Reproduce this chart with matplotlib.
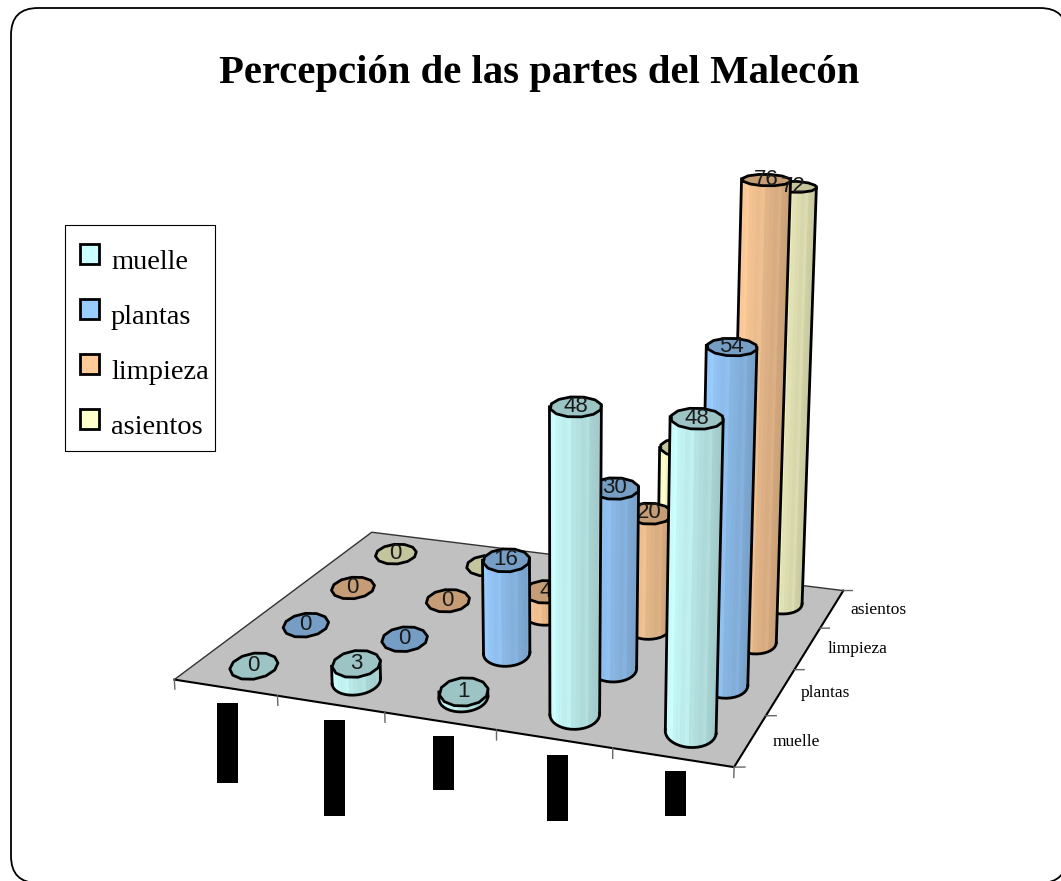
import numpy as np
import matplotlib
matplotlib.use("Agg")
import matplotlib.pyplot as plt
from matplotlib.patches import FancyBboxPatch, Rectangle
from mpl_toolkits.mplot3d import proj3d
from mpl_toolkits.mplot3d.art3d import Poly3DCollection

series = ["muelle", "plantas", "limpieza", "asientos"]
colors = ["#CCFFFF", "#99CCFF", "#FFCC99", "#FFFFCC"]
muelle = [0, 3, 1, 48, 48]
plantas = [0, 0, 16, 30, 54]
limpieza = [0, 0, 4, 20, 76]
asientos = [0, 0, 0, 26, 72]
values = [muelle, plantas, limpieza, asientos]

W, H = 1061, 881
fig = plt.figure(figsize=(W / 100, H / 100), dpi=100)

bg = fig.add_axes([0, 0, 1, 1])
bg.set_xlim(0, W)
bg.set_ylim(H, 0)
bg.axis("off")

ax = fig.add_axes([0, 0, 1, 1], projection="3d", computed_zorder=False)
ax.set_xlim(0, 5)
ax.set_ylim(0, 4)
ax.set_zlim(0, 80)
ax.axis("off")
ax.patch.set_alpha(0)

# camera, fitted against the floor corners and column tops of the picture
ax.view_init(elev=15.6427, azim=-69.3839, roll=0.2715)
ax.set_proj_type("persp", focal_length=np.exp(-0.8254))
ax.set_box_aspect((np.exp(0.1196), np.exp(-0.0824), 1.0))
s = np.exp(6.7538)
cx0, cy0 = 514.03, 411.25
ax.set_position([(cx0 - s / 2) / W, 1 - (cy0 + s / 2) / H, s / W, s / H])

def shade(c, f):
    return tuple(np.array(matplotlib.colors.to_rgb(c)) * min(f, 1.0))

def label3d(x, y, z, txt, **kw):
    # project by hand, a Text3D keeps raw data in its position outside of draw
    px, py, _ = proj3d.proj_transform(x, y, z, ax.get_proj())
    return ax.text2D(px, py, txt, transform=ax.transData, **kw)

# disc axes on the floor, chosen so the rims look level on screen
disc_w = np.array([.192, .076])
disc_h = np.array([-.099, .275])
n = 36

def column(x, y, val, col, zo, label_zo):
    th = np.linspace(0, 2 * np.pi, n, endpoint=False) + 0.2
    cx = x + disc_w[0] * np.cos(th) + disc_h[0] * np.sin(th)
    cy = y + disc_w[1] * np.cos(th) + disc_h[1] * np.sin(th)
    sx, sy, _ = proj3d.proj_transform(cx, cy, np.zeros(n), ax.get_proj())
    sx = np.asarray(sx)
    sy = np.asarray(sy)
    if val > 0:
        faces, fc = [], []
        for i in range(n):
            j = (i + 1) % n
            faces.append([(cx[i], cy[i], 0), (cx[j], cy[j], 0), (cx[j], cy[j], val), (cx[i], cy[i], val)])
            t = ((sx[i] + sx[j]) / 2 - sx.min()) / (sx.max() - sx.min())
            # thin light streaks down the side
            fc.append(shade(col, 1.0 - 0.22 * t + (0.035 if i % 4 == 0 else 0)))
        ax.add_collection3d(Poly3DCollection(faces, facecolors=fc, edgecolors=fc, linewidths=0.3, zorder=zo))
        il, ir = np.argmin(sx), np.argmax(sx)
        for i in (il, ir):
            ax.plot([cx[i], cx[i]], [cy[i], cy[i]], [0, val], color="k", lw=2, zorder=zo + .1)
        # front part of the bottom rim
        a = [(ir + k) % n for k in range((il - ir) % n + 1)]
        b = [(il + k) % n for k in range((ir - il) % n + 1)]
        front = a if sy[a].mean() < sy[b].mean() else b
        ax.plot(cx[front], cy[front], np.zeros(len(front)), color="k", lw=2, zorder=zo + .1)
    rim = list(zip(cx[::3], cy[::3], np.full(n // 3, val)))
    ax.add_collection3d(Poly3DCollection([rim], facecolors=[shade(col, 0.77)], edgecolors="k", linewidths=2, zorder=zo + .2))
    label3d(x, y, val, str(val), ha="center", va="center", fontsize=16, family="Liberation Sans",
            color="#1a1a1a", zorder=label_zo)

# floor
floor = [[(0, 0, 0), (5, 0, 0), (5, 4, 0), (0, 4, 0)]]
ax.add_collection3d(Poly3DCollection(floor, facecolors="#C0C0C0", edgecolors="none", zorder=1))
ax.plot([0, 5, 5], [0, 0, 4], [0, 0, 0], color="k", lw=1.5, zorder=2)
ax.plot([0, 0, 5], [0, 4, 4], [0, 0, 0], color="#333333", lw=1, zorder=2)
for i in range(6):
    ax.plot([i, i], [0, 0], [0, -1.6], color="#666666", lw=1, zorder=2)
for j in range(5):
    ax.plot([5, 5.08], [j, j + .03], [0, 0], color="#666666", lw=1, zorder=2)
for j, name in enumerate(series):
    label3d(5.17, j + .54, 0, name, ha="left", va="center", fontsize=12.5, family="Liberation Serif", zorder=2)

zo = 3
for j in range(3, -1, -1):
    for i in range(5):
        # asientos labels sit above the limpieza row, as in the picture
        column(i + .5, j + .5, values[j][i], colors[j], zo, zo + (5.3 if j == 3 else .3))
        zo += 1

# frame, title, legend
bg.add_patch(FancyBboxPatch((11, 8), 1056, 875, boxstyle="round,pad=0,rounding_size=27", fc="white", ec="k", lw=1.3))
bg.text(539, 73, "Percepción de las partes del Malecón", ha="center", va="center", fontsize=29.3,
        fontweight="bold", family="Liberation Serif")
bg.add_patch(Rectangle((65, 225), 150, 226, fc="white", ec="k", lw=0.8))
for j, name in enumerate(series):
    bg.add_patch(Rectangle((80, 244 + 55 * j), 19, 20, fc=colors[j], ec="k", lw=2))
    bg.text(111, 269 + 55 * j, name, va="baseline", fontsize=20.5, family="Liberation Serif")
for x0, x1, y0, y1 in [(217, 238, 703, 783), (324, 345, 720, 816), (433, 454, 736, 790), (547, 568, 755, 821), (665, 686, 771, 816)]:
    bg.add_patch(Rectangle((x0, y0), x1 - x0, y1 - y0, fc="k", ec="none"))

fig.savefig("out.png", dpi=100)
